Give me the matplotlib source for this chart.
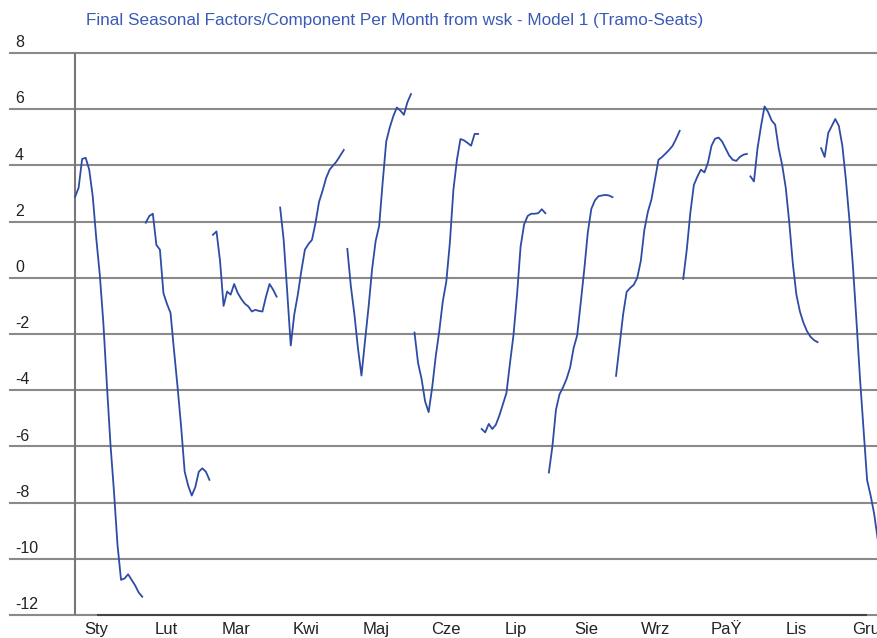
import numpy as np
import matplotlib
matplotlib.use('Agg')
import matplotlib.pyplot as plt
import matplotlib.transforms as mtransforms

plt.rcParams['font.family'] = ['Liberation Sans', 'DejaVu Sans']

title = 'Final Seasonal Factors/Component Per Month from wsk - Model 1 (Tramo-Seats)'
months = ['Sty', 'Lut', 'Mar', 'Kwi', 'Maj', 'Cze', 'Lip', 'Sie', 'Wrz', 'PaŸ', 'Lis', 'Gru']

# seasonal factor per year, one list per month
sty = [2.88, 3.2, 4.23, 4.27, 3.85, 2.9, 1.4, 0.1, -1.6, -3.8, -5.9, -7.6, -9.5, -10.75,
       -10.7, -10.55, -10.75, -10.95, -11.2, -11.35]
lut = [1.96, 2.2, 2.28, 1.17, 1.0, -0.55, -0.93, -1.25, -2.6, -3.9, -5.3, -6.9, -7.4,
       -7.75, -7.45, -6.9, -6.78, -6.9, -7.19]
mar = [1.53, 1.65, 0.6, -1.0, -0.49, -0.6, -0.22, -0.54, -0.75, -0.92, -1.02, -1.2,
       -1.14, -1.18, -1.2, -0.67, -0.22, -0.42, -0.67]
kwi = [2.5, 1.35, -0.5, -2.41, -1.3, -0.6, 0.25, 1.0, 1.2, 1.35, 1.95, 2.7, 3.1, 3.55,
       3.85, 4.0, 4.15, 4.35, 4.55]
maj = [1.03, -0.3, -1.3, -2.5, -3.48, -2.25, -1.05, 0.3, 1.3, 1.85, 3.4, 4.85, 5.35,
       5.75, 6.06, 5.95, 5.8, 6.25, 6.54]
cze = [-1.95, -3.03, -3.6, -4.4, -4.78, -3.9, -2.8, -1.9, -0.84, -0.13, 1.25, 3.13, 4.2,
       4.94, 4.89, 4.8, 4.7, 5.12, 5.12]
lip = [-5.38, -5.5, -5.2, -5.38, -5.23, -4.9, -4.5, -4.1, -3.04, -2.03, -0.6, 1.11, 1.9,
       2.2, 2.28, 2.28, 2.3, 2.44, 2.3]
sie = [-6.93, -6.0, -4.7, -4.15, -3.9, -3.6, -3.2, -2.5, -2.05, -0.9, 0.28, 1.6, 2.45,
       2.75, 2.9, 2.93, 2.95, 2.93, 2.87]
wrz = [-3.49, -2.4, -1.3, -0.5, -0.36, -0.25, 0.0, 0.6, 1.7, 2.35, 2.78, 3.49, 4.2, 4.3,
       4.42, 4.55, 4.7, 4.95, 5.23]
paz = [-0.04, 1.0, 2.3, 3.3, 3.6, 3.85, 3.75, 4.1, 4.7, 4.95, 4.99, 4.85, 4.6, 4.35, 4.2,
       4.16, 4.3, 4.38, 4.41]
lis = [3.61, 3.43, 4.6, 5.4, 6.1, 5.9, 5.6, 5.45, 4.6, 4.0, 3.2, 1.95, 0.5, -0.6, -1.2,
       -1.6, -1.9, -2.1, -2.22, -2.29]
gru = [4.61, 4.3, 5.15, 5.4, 5.65, 5.41, 4.7, 3.49, 2.06, 0.4, -1.55, -3.6, -5.4, -7.2,
       -7.75, -8.4, -9.3, -9.8, -10.1]

series = [sty, lut, mar, kwi, maj, cze, lip, sie, wrz, paz, lis, gru]
yticks = list(range(8, -13, -2))

line_color = '#2E4CA6'
grid_color = '#8a8a8a'

fig = plt.figure(figsize=(8.77, 6.38), dpi=100)
ax = fig.add_axes([10 / 877, 23 / 638, 867 / 877, 562 / 638])
ax.set_xlim(-18.4, 226.8)
ax.set_ylim(-12, 8)

for t in yticks:
    ax.axhline(t, color=grid_color, lw=1.5, clip_on=False, zorder=1)
ax.axvline(0, color='#777777', lw=1.5, zorder=1)
ax.hlines(-12, 6.2, 224, color='#444444', lw=1.5, clip_on=False, zorder=1)

start = 0
for vals in series:
    x = start + np.arange(len(vals))
    ax.plot(x, vals, color=line_color, lw=1.3, zorder=3)
    start += len(vals)

for s in ax.spines.values():
    s.set_visible(False)
ax.set_yticks([])
ax.set_xticks(5.9 + 19.8 * np.arange(len(months)))
ax.set_xticklabels(months, fontsize=12, color='#222222')
ax.tick_params(axis='x', length=0, pad=5)

blend = mtransforms.blended_transform_factory(ax.transAxes, ax.transData)
for t in yticks:
    ax.annotate(str(t), xy=(0, t), xycoords=blend, xytext=(3.6, 2),
                textcoords='offset points', ha='left', va='bottom',
                fontsize=11.5, color='#222222')

fig.text(395 / 877, 1 - 21 / 638, title, ha='center', va='center',
         color='#3A5BB5', fontsize=12.3)

fig.savefig('out.png', dpi=100)
